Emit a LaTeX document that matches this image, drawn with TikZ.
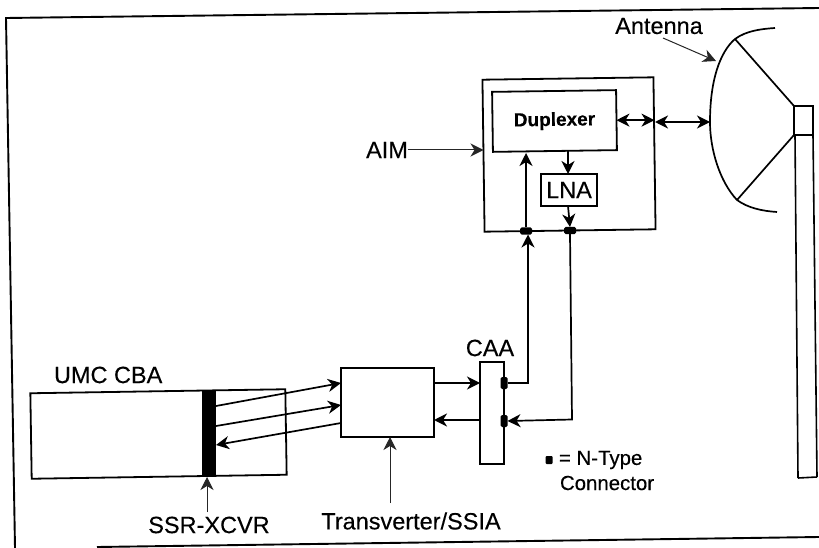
\documentclass[tikz,border=0pt]{standalone}
\usepackage{fontspec}
\setmainfont[FakeBold=0.25]{Liberation Sans}
\usetikzlibrary{arrows.meta}
\tikzset{
  box/.style={draw=black,line width=1.8pt,inner sep=0pt,outer sep=0pt,fill=white},
  lab/.style={inner sep=0pt,outer sep=0pt,font=\fontsize{23.5}{26}\selectfont,text=black},
  small/.style={inner sep=0pt,outer sep=0pt,font=\fontsize{20.4}{24}\selectfont,text=black},
  wire/.style={line width=1.7pt,draw=black},
  tip/.style={-{Stealth[length=13pt,width=13pt,inset=4pt]}},
  both/.style={{Stealth[length=13pt,width=13pt,inset=4pt]}-{Stealth[length=13pt,width=13pt,inset=4pt]}},
  thin lead/.style={line width=1pt,draw=black!85},
  conn/.style={fill=black,rounded corners=1.5pt,inner sep=0pt,outer sep=0pt},
}
\begin{document}
\begin{tikzpicture}[x=1pt,y=-1pt]
\useasboundingbox (0,0) rectangle (819,548);
\fill[white] (0,0) rectangle (819,548);
% frame
\draw[line width=1.9pt] (819,8) -- (6,18) -- (15,548);
\draw[line width=1.9pt] (97,547) -- (819,537);
% antenna
\draw[line width=1.7pt] (775,28) .. controls (760,29) and (746,31) .. (735,39) .. controls (720,52) and (710,80) .. (710,122) .. controls (710,150) and (720,182) .. (737,200) .. controls (748,208) and (762,211) .. (777,212);
\coordinate (dishT) at (735,39);
\coordinate (dishB) at (737,200);
\coordinate (dishM) at (710,122);
\draw[line width=1.6pt] (798,478) -- (795,135);
\draw[line width=1.6pt] (817,477) -- (813,135);
\draw[line width=1.6pt] (798,478) -- (817,477);
\node[box,minimum width=19pt,minimum height=29pt] (feed) at (803.5,120.5) {};
\draw[wire] (dishT) -- (feed.north west);
\draw[wire] (dishB) -- (feed.south west);
% AIM
\node[box,minimum width=171pt,minimum height=152pt,rotate=0.8] (aim) at (569,154.5) {};
\node[box,minimum width=124pt,minimum height=60pt,rotate=0.8] (dup) at (554.5,121) {\fontsize{19}{22}\selectfont\bfseries Duplexer};
\node[box,minimum width=56pt,minimum height=32pt,font=\fontsize{23.5}{26}\selectfont] (lna) at (569,190) {LNA};
\node[conn,minimum width=12pt,minimum height=7pt] (c1) at (526,231) {};
\node[conn,minimum width=12pt,minimum height=7pt] (c2) at (570,230.5) {};
\draw[wire,tip] (568,151) -- (lna.north -| 568,0);
\draw[wire,tip] (lna.south -| 568,0) -- (c2.north);
\draw[wire,tip] (c1.north) -- (526,153);
\draw[wire,both] (dup.east) -- (aim.east |- dup.east);
\coordinate (aimR) at (655,122);
\draw[wire,both] (aimR) -- (dishM);
% UMC
\node[box,minimum width=255pt,minimum height=85.5pt,rotate=0.9] (umc) at (158.5,434) {};
\node[fill=black,inner sep=0pt,minimum width=14pt,minimum height=86pt] (bar) at (209,433) {};
\node[box,minimum width=93pt,minimum height=69pt] (tv) at (387.5,402.5) {};
\node[box,minimum width=24pt,minimum height=102pt] (caa) at (492,413) {};
\coordinate (bA) at (216,406);
\coordinate (bB) at (216,426);
\coordinate (bC) at (216,445);
\coordinate (tA) at (341,383);
\coordinate (tB) at (341,405);
\coordinate (tC) at (341,423);
\draw[wire,tip] (bA) -- (tA);
\draw[wire,tip] (bB) -- (tB);
\draw[wire,tip] (tC) -- (bC);
\coordinate (tvO) at (434,383);
\coordinate (caaI) at (480,383);
\coordinate (caaO) at (480,420);
\coordinate (tvI) at (434,420);
\draw[wire,tip] (tvO) -- (caaI);
\draw[wire,tip] (caaO) -- (tvI);
\node[conn,minimum width=7pt,minimum height=12pt] (c3) at (504,383) {};
\node[conn,minimum width=7pt,minimum height=12pt] (c4) at (504,421) {};
\draw[wire,tip] (c3.east) -- (528,383) -- (c1.south -| 528,0);
\draw[wire,tip] (c2.south) -- (572,419.5) -- (c4.east);
% labels
\node[lab] (antenna) at (659,26) {Antenna};
\node[lab] (aimlab) at (387,150) {AIM};
\node[lab] (caalab) at (490,348) {CAA};
\node[lab,anchor=west] (umclab) at (54,375) {UMC CBA};
\node[lab] (ssr) at (209,525) {SSR-XCVR};
\node[lab] (tvlab) at (411,521) {Transverter/SSIA};
\node[conn,rounded corners=1pt,minimum width=7pt,minimum height=8pt] (key) at (549,460) {};
\node[small,anchor=west] (keylab) at (559,460) {= N-Type};
\node[small,anchor=west] (keylab2) at (560,483) {Connector};
\draw[thin lead,tip] (663,38) -- (716,61);
\draw[thin lead,tip] (aimlab.east) -- (aimlab.east -| aim.west);
\draw[thin lead,tip] (207,512) -- (207,477);
\draw[thin lead,tip] (390,503) -- (tv.south -| 390,0);
\end{tikzpicture}
\end{document}
